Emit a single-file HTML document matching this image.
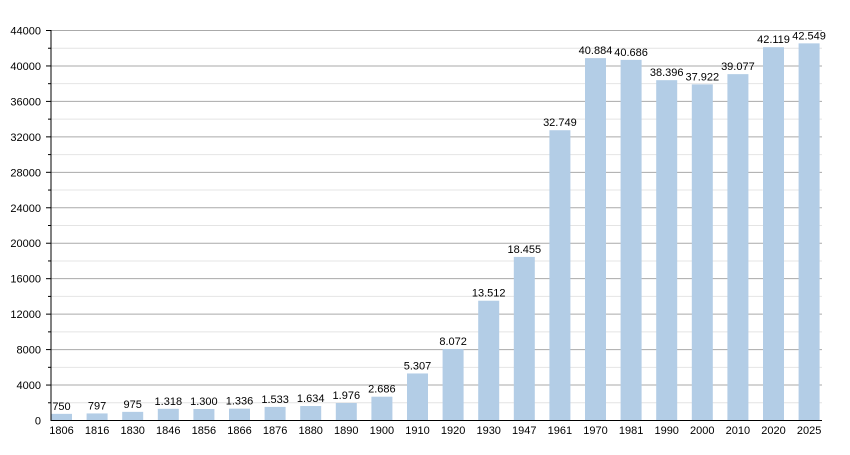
<!DOCTYPE html><html><head><style>body{margin:0;background:#fff}svg text{font-family:"Liberation Sans",sans-serif;font-size:11px;fill:#000}</style></head><body>
<svg width="850" height="450" xmlns="http://www.w3.org/2000/svg" id="s"></svg>
<script>
const s=document.getElementById('s');let h='';
const y0=420.5,k=390/44000;
for(let v=2000;v<=44000;v+=2000){const y=y0-v*k;const maj=v%4000==0;h+=`<line x1="51" x2="822" y1="${y}" y2="${y}" stroke="${maj?'#aaa':'#e4e4e4'}" stroke-width="1"/>`;
h+=`<line x1="${maj?46:48}" x2="51" y1="${y}" y2="${y}" stroke="#000"/>`;
if(maj)h+=`<text x="41" y="${y+4}" text-anchor="end">${v}</text>`;}
h+=`<text x="41" y="${y0+4}" text-anchor="end">0</text>`;
const d=[[1806,750],[1816,797],[1830,975],[1846,1318],[1856,1300],[1866,1336],[1876,1533],[1880,1634],[1890,1976],[1900,2686],[1910,5307],[1920,8072],[1930,13512],[1947,18455],[1961,32749],[1970,40884],[1981,40686],[1990,38396],[2000,37922],[2010,39077],[2020,42119],[2025,42549]];
d.forEach((e,i)=>{const c=61.5+35.6*i,hh=e[1]*k;
h+=`<rect x="${c-10.5}" y="${y0-hh}" width="21" height="${hh}" fill="#b3cde6"/>`;
const lab=e[1]>=1000?String(e[1]).replace(/(\d)(\d{3})$/,'$1.$2'):e[1];
h+=`<text x="${c}" y="${y0-hh-4}" text-anchor="middle">${lab}</text>`;
h+=`<text x="${c}" y="434" text-anchor="middle">${e[0]}</text>`;});
h+=`<line x1="51" x2="51" y1="30" y2="421" stroke="#000"/><line x1="51" x2="822" y1="${y0}" y2="${y0}" stroke="#000"/>`;
s.innerHTML=h;
</script></body></html>
